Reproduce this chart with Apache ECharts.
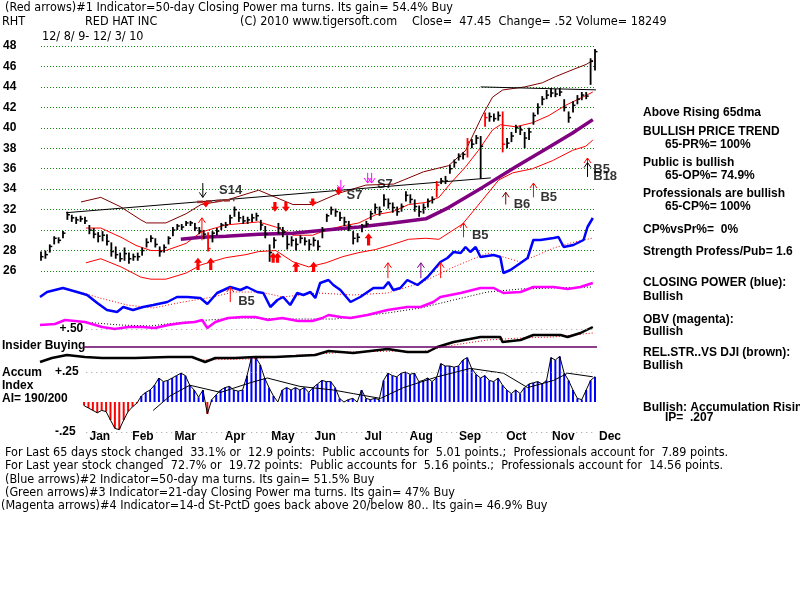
<!DOCTYPE html>
<html>
<head>
<meta charset="utf-8">
<script src="https://cdn.jsdelivr.net/npm/echarts@6/dist/echarts.min.js"></script>
<style>
  html, body { margin: 0; background: #fff; }
  #chart { width: 800px; height: 600px; }
</style>
</head>
<body>
<div id="chart"></div>
<script>
// ---- data (x = bar index, one bar every 2 trading days, 12/8/09 .. 12/3/10) ----
const closes = [
  27.4, 27.6, 28.4, 29.2, 29.0, 29.7, 31.5, 31.2, 31.0, 31.1,
  30.9, 30.0, 29.6, 29.4, 29.5, 28.9, 27.9, 27.6, 27.2, 27.7,
  27.2, 27.4, 27.4, 28.0, 28.8, 29.2, 28.6, 27.9, 28.3, 29.2,
  30.0, 30.4, 30.3, 30.7, 30.7, 30.2, 29.9, 29.6, 28.2, 29.7,
  29.9, 30.5, 30.5, 31.2, 32.0, 31.2, 30.9, 31.0, 31.2, 31.4,
  30.5, 29.6, 27.8, 29.0, 30.2, 29.8, 28.6, 29.0, 28.6, 29.2,
  28.9, 28.6, 29.0, 28.4, 30.0, 31.4, 32.0, 31.8, 31.2, 30.8,
  30.4, 29.2, 29.3, 30.4, 30.6, 31.6, 32.2, 31.8, 33.0, 32.6,
  32.2, 31.8, 32.3, 33.4, 33.0, 32.3, 31.8, 32.2, 32.8, 33.0,
  34.4, 34.8, 34.8, 36.0, 36.6, 37.2, 37.4, 38.6, 38.4, 39.0,
  38.2, 41.0, 41.1, 40.9, 41.2, 38.4, 38.5, 39.2, 40.0, 39.8,
  39.0, 39.6, 41.2, 42.0, 42.8, 43.2, 43.4, 43.3, 43.5, 42.0,
  41.0, 42.2, 42.8, 43.2, 43.1, 46.5, 47.45
]
const highs = [
  27.9, 28.0, 28.6, 29.4, 29.3, 29.9, 31.8, 31.5, 31.3, 31.4,
  31.3, 30.5, 30.2, 29.8, 29.9, 29.6, 28.8, 28.4, 27.8, 28.3,
  27.8, 27.7, 27.8, 28.3, 29.2, 29.5, 29.2, 28.4, 28.6, 29.4,
  30.3, 30.6, 30.6, 30.9, 30.9, 30.7, 30.3, 30.0, 29.8, 29.9,
  30.2, 30.7, 30.8, 31.5, 32.3, 31.8, 31.4, 31.3, 31.6, 31.7,
  31.0, 30.4, 28.6, 29.3, 30.7, 30.3, 29.5, 29.4, 29.2, 29.5,
  29.3, 29.1, 29.3, 29.0, 30.3, 31.6, 32.3, 32.1, 31.8, 31.3,
  30.9, 29.9, 29.7, 30.6, 30.9, 31.9, 32.6, 32.3, 33.5, 33.1,
  32.7, 32.3, 32.6, 33.8, 33.5, 33.0, 32.4, 32.6, 33.1, 33.3,
  34.8, 35.1, 35.3, 36.4, 36.9, 37.5, 37.6, 39.0, 38.9, 39.3,
  39.2, 41.5, 41.5, 41.4, 41.6, 41.6, 39.0, 39.6, 40.3, 40.2,
  39.6, 40.0, 41.5, 42.4, 43.1, 43.7, 43.9, 43.8, 43.9, 42.8,
  41.6, 42.6, 43.2, 43.5, 43.5, 46.8, 47.7
]
const lows = [
  27.0, 27.2, 27.8, 28.6, 28.7, 29.2, 31.0, 30.8, 30.6, 30.8,
  30.6, 29.6, 29.2, 28.8, 28.9, 28.5, 27.4, 27.2, 26.9, 27.0,
  26.7, 27.0, 27.0, 27.5, 28.3, 28.8, 28.3, 27.4, 27.8, 28.6,
  29.4, 30.0, 30.0, 30.4, 30.4, 29.9, 29.6, 29.1, 27.9, 28.8,
  29.5, 30.0, 30.2, 30.6, 31.3, 30.8, 30.6, 30.6, 30.8, 30.9,
  30.0, 29.2, 26.9, 28.2, 29.6, 29.3, 28.1, 28.4, 28.0, 28.7,
  28.5, 28.0, 28.4, 28.0, 29.2, 30.8, 31.5, 31.3, 30.9, 30.4,
  29.9, 28.6, 28.8, 29.8, 30.3, 31.0, 31.6, 31.4, 32.3, 32.1,
  31.7, 31.4, 31.8, 32.8, 32.6, 31.8, 31.3, 31.6, 32.2, 32.6,
  33.2, 34.5, 34.5, 35.5, 36.1, 36.8, 36.9, 37.1, 38.0, 38.4,
  35.0, 40.1, 40.6, 40.6, 40.7, 37.6, 38.0, 38.6, 39.5, 39.3,
  38.0, 38.8, 40.3, 41.3, 42.2, 42.8, 43.0, 43.0, 43.1, 41.6,
  40.5, 41.5, 42.3, 42.7, 42.8, 44.2, 45.6
]
const redBars = [38, 90, 97, 101, 105]

const upperBand = [[9.1,32.75],[13.6,33.2],[18,32.3],[22.7,31.0],[24,30.7],[28.4,30.7],[33,31.6],[36.4,32.5],[42,32.9],[49.5,33.9],[57.3,32.5],[61.8,32.5],[67.7,33.6],[73.9,34.4],[80.2,34.5],[82.5,34.9],[87,35.7],[92.7,36.3],[96.6,37.8],[100.5,41.3],[102.7,43.0],[105,43.7],[110,44.0],[114,44.4],[117,45.0],[121,45.7],[124,46.2],[125.5,46.6]]
const midLine = [[10.2,30.2],[13.6,30.2],[18.2,29.3],[21.6,28.5],[25,28.0],[28.4,28.0],[33,28.7],[36.4,29.8],[42,30.5],[49.5,30.8],[53.4,30.3],[57.3,29.5],[61.8,29.5],[64.8,30.0],[68.6,30.4],[72.3,30.7],[76.1,31.5],[80,31.8],[83.6,32.5],[87.5,32.7],[90.5,33.2],[93.2,34.6],[96.6,36.2],[99.5,37.8],[102.7,39.8],[104.5,40.3],[108,40.1],[111.8,40.5],[115.5,41.2],[119.3,42.2],[123.2,43.0],[125.5,43.5]]
const lowerBand = [[10.2,26.8],[13.6,27.2],[18.2,26.4],[22.7,25.4],[25,25.2],[28.4,25.2],[33,25.8],[36.4,26.6],[42,27.3],[46.6,27.6],[49.5,27.9],[53.4,28.0],[57.3,26.9],[60.9,26.4],[64.8,26.8],[68.6,27.4],[72.3,27.8],[76.1,28.1],[80,28.6],[83.6,29.1],[87.5,29.2],[90.5,29.1],[95.9,30.6],[100.5,33.0],[104.1,34.9],[107.3,35.6],[111.8,36.0],[116.4,36.8],[120.9,37.8],[123.9,38.2],[125.5,38.8]]
const ma65 = [[31.8,29.1],[36.4,29.3],[42,29.4],[49.5,29.6],[57.3,29.7],[64.8,30.0],[72.3,30.3],[80,30.7],[87.5,31.1],[92.7,32.2],[100.5,34.2],[108,36.2],[115.5,38.1],[120.9,39.5],[125.5,40.8]]
const trendLine1 = [[5.7,31.7],[102.3,35.1]]
const trendLine2 = [[100,44.0],[136.4,43.6]]
const stopLine = [[35.5,32.75],[44,32.95]]

// arrows: [x, tail, tip]
const redThickUp = [[35.7,26.1,27.3],[38.6,26.1,27.3],[52.8,26.8,27.8],[53.8,26.8,27.8],[58,25.9,26.9],[62,25.9,26.9],[74.5,28.5,29.7]]
const redThickDown = [[37.5,32.8,32.2],[53.2,32.75,31.8],[55.7,32.75,31.8],[61.8,33.1,32.3],[67.7,34.2,33.4]]
const redThin = [[36.6,29.0,31.2],[78.9,25.3,26.8],[90.9,25.3,26.8],[96.1,29.3,30.7],[112,33.2,34.6],[124.3,35.2,37.05]]
const purpleThin = [[86.4,25.3,26.8]]
const darkRedThin = [[105.7,32.5,33.7]]
const blackThin = [[36.8,34.6,33.2],[124.3,35.2,36.6]]
const magentaThin = [[68.2,34.9,33.9],[74.3,35.6,34.6],[75.2,35.6,34.6]]
const signals = [[40.5,33.9,'S14'],[69.5,33.4,'S7'],[76.4,34.5,'S7'],[80.3,25.5,'B5'],[88,25.5,'B7'],[92.5,25.5,'B5'],[98,29.5,'B5'],[107.5,32.55,'B6'],[113.6,33.2,'B5'],[125.6,35.9,'B5'],[125.6,35.2,'B18']]

// lower indicators (unscaled height units)
const closingPower = [[0,73],[1.6,78],[5.2,82],[8.4,78],[10.7,75],[13,67],[15.2,60],[17.5,58],[18.9,63],[21.1,60],[23.4,63],[25.7,65],[28.9,68],[31.1,73],[33.4,73],[36.4,72],[38,66],[40.2,77],[43.2,83],[45.5,80],[47,83],[49.3,78],[50.7,77],[52.3,63],[53.9,70],[55.2,73],[56.8,65],[58.4,77],[59.8,75],[61.4,78],[62.5,72],[63.6,87],[65.5,90],[66.6,85],[68.2,80],[70.5,68],[72.7,73],[75.7,82],[78,82],[79.1,88],[80.2,80],[81.8,82],[83.4,90],[85.7,85],[88,93],[90.9,108],[92.5,112],[93.9,118],[95.5,117],[96.6,123],[97.7,118],[98.9,123],[100,113],[103,115],[104.5,113],[105.2,97],[106.8,100],[109.1,107],[110.7,112],[112,130],[113.6,130],[116.6,132],[117.7,133],[118.9,123],[121.1,125],[123.4,130],[124.3,143],[125.5,152]]
const closingPowerMa = [[9.8,77],[13.6,72],[19.8,65],[25.7,62],[32.5,68],[39.3,73],[43.9,78],[50,78],[55.2,73],[63,77],[71.1,75],[78.9,77],[86.4,87],[93.9,103],[101.6,117],[105.2,113],[109.1,108],[113,115],[116.6,122],[120.5,127],[125.5,132]]
const obv = [[0,45],[3.4,46],[5.7,50],[10.2,48],[14.1,43],[17,41],[20,43],[23.2,43],[26.1,42],[29.1,45],[32.3,47],[35.2,48],[36.8,50],[38,42],[39.8,48],[42.7,52],[45.9,53],[48.9,53],[51.8,50],[55,52],[58.6,49],[61.8,49],[64.1,52],[65.5,55],[68.2,53],[70.5,52],[74.3,55],[78.9,60],[83.4,63],[86.4,63],[89.3,68],[90.9,73],[95.5,77],[100,82],[103,82],[105.2,77],[109.1,78],[112,83],[116.6,83],[119.8,81],[122.7,83],[125.5,87]]
const obvMa = [[9.8,48],[18.2,45],[25,44],[30.7,47],[38.2,50],[45.9,52],[56.8,51],[67,51],[78.9,57],[86.4,62],[93.9,70],[101.6,78],[109.1,81],[116.6,82],[125.5,83]]
const relStrength = [[0,8],[2.7,12],[6.1,15],[10.2,13],[14.1,12],[21.6,12],[29.1,13],[34.5,13],[37.5,8],[39.8,12],[44.3,12],[48.9,13],[53.4,13],[58,14],[62.5,15],[65.5,19],[71.1,17],[78.9,21],[83.4,18],[88,18],[90.2,23],[93.9,28],[100,33],[104.5,33],[105,28],[109.1,30],[112,35],[118.2,35],[119.8,33],[122.7,37],[125.5,43]]
const relStrengthMa = [[36.4,10],[47.7,11],[59.1,15],[70.5,18],[81.8,19],[86.4,18],[93.9,25],[101.6,30],[109.1,32],[116.6,33],[125.5,37]]
const insiderLevel = 23
const plus50Level = 41
const cpArrow = [[43.2,68,83]]
const cpSignals = [[45,69,'B5']]

const accum = [
  null, null, null, null, null, null, null, null, null, null,
  -0.03, -0.05, -0.07, -0.09, -0.07, -0.08, -0.15, -0.22, -0.23, -0.15,
  -0.08, -0.04, -0.01, 0.05, 0.08, 0.10, 0.14, 0.20, 0.17, 0.18,
  0.20, 0.22, 0.24, 0.22, 0.14, 0.10, 0.04, 0.10, -0.10, 0.02,
  0.06, 0.10, 0.12, 0.13, 0.10, 0.09, 0.10, 0.22, 0.37, 0.37,
  0.31, 0.20, 0.12, 0.05, 0.00, 0.10, 0.12, 0.10, 0.12, 0.10,
  0.12, 0.08, 0.12, 0.15, 0.18, 0.17, 0.17, 0.12, 0.03, 0.00,
  0.02, 0.03, 0.00, 0.10, 0.03, 0.02, 0.03, 0.02, 0.18, 0.24,
  0.22, 0.21, 0.24, 0.25, 0.23, 0.24, 0.17, 0.18, 0.20, 0.17,
  0.20, 0.32, 0.30, 0.30, 0.29, 0.30, 0.35, 0.37, 0.28, 0.23,
  0.20, 0.22, 0.18, 0.17, 0.20, 0.14, 0.10, 0.07, 0.10, 0.07,
  0.12, 0.15, 0.16, 0.17, 0.15, 0.18, 0.37, 0.35, 0.38, 0.24,
  0.18, 0.10, 0.03, 0.02, 0.10, 0.18, 0.21
]
const accumMa = [[25.7,-0.07],[29.5,0.05],[34,0.14],[41,0.08],[47.7,0.16],[51.6,0.20],[59,0.13],[66.6,0.10],[71.1,0.07],[77.3,0.03],[82.5,0.12],[90.2,0.21],[97.7,0.28],[105.2,0.24],[110.7,0.12],[116.6,0.18],[119.8,0.24],[125.5,0.21]]
const accumTicks = [-0.25, 0.25]
const accumTickLabels = ['-.25', '+.25']

const priceMin = 26, priceMax = 48, priceStep = 2
const monthNames = ['Jan','Feb','Mar','Apr','May','Jun','Jul','Aug','Sep','Oct','Nov','Dec']
const monthPos = [13.6, 23.4, 33, 44.3, 55.2, 64.8, 75.7, 86.6, 97.7, 108.2, 118.9, 129.5]

// ---- chart ----
const BOLD = 'bold 12px "Liberation Sans", Arial, sans-serif'
const NARROW = '12.5px "Liberation Sans Narrow", "DejaVu Sans Condensed", sans-serif'
const myChart = echarts.init(document.getElementById('chart'))

function txt(s, x, y, font) {
  return { type: 'text', x: x, y: y, silent: true, style: { text: s, font: font || BOLD, fill: '#000', verticalAlign: 'middle' } }
}

function renderBar(params, api) {
  const x = api.value(0)
  const lo = api.coord([x, api.value(1)])
  const hi = api.coord([x, api.value(2)])
  const cl = api.coord([x, api.value(3)])
  const color = api.value(4) ? '#ff0000' : '#000000'
  return {
    type: 'group',
    children: [
      { type: 'line', shape: { x1: lo[0], y1: lo[1], x2: hi[0], y2: hi[1] }, style: { stroke: color, lineWidth: 1.8 } },
      { type: 'line', shape: { x1: cl[0], y1: cl[1], x2: cl[0] + 2.5, y2: cl[1] }, style: { stroke: color, lineWidth: 1.5 } },
    ],
  }
}

function renderArrow(params, api) {
  const x = api.value(0)
  const tail = api.coord([x, api.value(1)])
  const tip = api.coord([x, api.value(2)])
  const thick = api.value(3)
  const color = api.visual('color')
  const dir = tip[1] < tail[1] ? 1 : -1
  const px = tip[0]
  if (thick) {
    const hw = 4, sw = 1.6, hl = 5
    const hy = tip[1] + dir * hl
    return {
      type: 'polygon',
      shape: { points: [[px, tip[1]], [px + hw, hy], [px + sw, hy], [px + sw, tail[1]], [px - sw, tail[1]], [px - sw, hy], [px - hw, hy]] },
      style: { fill: color },
    }
  }
  return {
    type: 'group',
    children: [
      { type: 'line', shape: { x1: px, y1: tail[1], x2: px, y2: tip[1] }, style: { stroke: color, lineWidth: 1 } },
      { type: 'polyline', shape: { points: [[px - 3.5, tip[1] + dir * 5], [px, tip[1]], [px + 3.5, tip[1] + dir * 5]] }, style: { stroke: color, lineWidth: 1, fill: null } },
    ],
  }
}

function renderAccum(params, api) {
  const x = api.value(0)
  const v = api.value(1)
  const base = api.coord([x, 0])
  const top = api.coord([x, v])
  return { type: 'line', shape: { x1: base[0], y1: base[1], x2: top[0], y2: top[1] }, style: { stroke: v < 0 ? '#ff0000' : '#0000ff', lineWidth: 2 } }
}

const arrowItems = (list, color, thick) => list.map((a) => ({ value: [a[0], a[1], a[2], thick], itemStyle: { color: color } }))
const priceArrows = [].concat(
  arrowItems(redThickUp, '#ff0000', 1),
  arrowItems(redThickDown, '#ff0000', 1),
  arrowItems(redThin, '#ff0000', 0),
  arrowItems(purpleThin, '#800080', 0),
  arrowItems(darkRedThin, '#800000', 0),
  arrowItems(blackThin, '#000000', 0),
  arrowItems(magentaThin, '#ff00ff', 0)
)
const labelItems = (list) => list.map((s) => ({ value: [s[0], s[1]], name: s[2] }))

function line(data, color, width, xi, extra) {
  return Object.assign({
    type: 'line', data: data, xAxisIndex: xi, yAxisIndex: xi, symbol: 'none', clip: false, silent: true,
    lineStyle: { color: color, width: width }, z: 3,
  }, extra || {})
}

const hiddenX = (g, max) => ({ gridIndex: g, type: 'value', min: 0, max: max, show: false })
const labelFont = { color: '#000', fontWeight: 'bold', fontSize: 12, fontFamily: '"Liberation Sans", Arial, sans-serif' }

const option = {
  animation: false,
  backgroundColor: '#ffffff',
  grid: [
    { left: 40, top: 46, width: 555, height: 225 },
    { left: 40, top: 190, width: 555, height: 180 },
    { left: 40, top: 348, width: 555, height: 84 },
    { left: 40, top: 424, width: 570, height: 1 },
  ],
  xAxis: [
    hiddenX(0, 126),
    hiddenX(1, 126),
    hiddenX(2, 126),
    {
      gridIndex: 3, type: 'value', min: 0, max: 129.5,
      axisLine: { show: false }, axisTick: { show: false }, splitLine: { show: false },
      axisLabel: Object.assign({
        customValues: monthPos, hideOverlap: false, margin: 6,
        formatter: (v) => monthNames[monthPos.indexOf(v)],
      }, labelFont),
    },
  ],
  yAxis: [
    {
      gridIndex: 0, type: 'value', min: priceMin, max: priceMax, interval: priceStep,
      axisLine: { show: false }, axisTick: { show: false },
      axisLabel: Object.assign({ align: 'left', margin: 38 }, labelFont),
      splitLine: { show: true, lineStyle: { color: '#118811', type: [1, 2], width: 1 } },
    },
    { gridIndex: 1, type: 'value', min: 0, max: 180, show: false },
    {
      gridIndex: 2, type: 'value', min: -0.25, max: 0.45,
      axisLine: { show: false }, axisTick: { show: false }, splitLine: { show: false },
      axisLabel: Object.assign({
        customValues: accumTicks, align: 'left', margin: -15,
        formatter: (v) => accumTickLabels[accumTicks.indexOf(v)],
      }, labelFont),
    },
    { gridIndex: 3, type: 'value', show: false },
  ],
  graphic: [
    txt('(Red arrows)#1 Indicator=50-day Closing Power ma turns. Its gain= 54.4% Buy', 5, 8, NARROW),
    txt('RHT', 2, 22, NARROW),
    txt('RED HAT INC', 85, 22, NARROW),
    txt('(C) 2010 www.tigersoft.com', 240, 22, NARROW),
    txt('Close=  47.45  Change= .52 Volume= 18249', 412, 22, NARROW),
    txt('12/ 8/ 9- 12/ 3/ 10', 42, 37, NARROW),
    txt('For Last 65 days stock changed  33.1% or  12.9 points:  Public accounts for  5.01 points.;  Professionals account for  7.89 points.', 5, 453, NARROW),
    txt('For Last year stock changed  72.7% or  19.72 points:  Public accounts for  5.16 points.;  Professionals account for  14.56 points.', 5, 466, NARROW),
    txt('(Blue arrows)#2 Indicator=50-day ma turns. Its gain= 51.5% Buy', 5, 480, NARROW),
    txt('(Green arrows)#3 Indicator=21-day Closing Power ma turns. Its gain= 47% Buy', 5, 493, NARROW),
    txt('(Magenta arrows)#4 Indicator=14-d St-PctD goes back above 20/below 80.. Its gain= 46.9% Buy', 1, 506, NARROW),
    txt('Above Rising 65dma', 643, 113),
    txt('BULLISH PRICE TREND', 643, 132),
    txt('65-PR%= 100%', 665, 145),
    txt('Public is bullish', 643, 163),
    txt('65-OP%= 74.9%', 665, 176),
    txt('Professionals are bullish', 643, 194),
    txt('65-CP%= 100%', 665, 207),
    txt('CP%vsPr%=  0%', 643, 230),
    txt('Strength Profess/Pub= 1.6', 643, 252),
    txt('CLOSING POWER (blue):', 643, 283),
    txt('Bullish', 643, 297),
    txt('OBV (magenta):', 643, 320),
    txt('Bullish', 643, 332),
    txt('REL.STR..VS DJI (brown):', 643, 353),
    txt('Bullish', 643, 366),
    txt('Bullish: Accumulation Rising', 643, 408),
    txt('IP=  .207', 665, 418),
    txt('Insider Buying', 2, 346),
    txt('Accum', 2, 373),
    txt('Index', 2, 386),
    txt('AI= 190/200', 2, 399),
  ],
  series: [
    // price panel
    line(upperBand, '#800000', 1, 0),
    line(midLine, '#ff0000', 1, 0),
    line(lowerBand, '#ff0000', 1, 0),
    line(ma65, '#800080', 3.5, 0),
    line(trendLine1, '#000000', 1, 0),
    line(trendLine2, '#000000', 1, 0),
    line(stopLine, '#a03030', 2.5, 0, { lineStyle: { color: '#a03030', width: 2.5, type: [6, 3] } }),
    {
      type: 'custom', xAxisIndex: 0, yAxisIndex: 0, renderItem: renderBar, z: 4, silent: true,
      data: closes.map((c, k) => [k, lows[k], highs[k], c, redBars.includes(k) ? 1 : 0]),
    },
    { type: 'custom', xAxisIndex: 0, yAxisIndex: 0, renderItem: renderArrow, z: 5, silent: true, data: priceArrows },
    {
      type: 'scatter', xAxisIndex: 0, yAxisIndex: 0, symbolSize: 0, z: 6, silent: true, data: labelItems(signals),
      label: Object.assign({ show: true, position: 'right', distance: 0, formatter: '{b}' }, labelFont, { fontSize: 13 }),
    },
    // indicator panel
    line(closingPowerMa, '#ff0000', 1, 1, { lineStyle: { color: '#ff0000', width: 1, type: [1, 2] } }),
    line(closingPower, '#0000ff', 2.5, 1),
    line(obvMa, '#000000', 1, 1, { lineStyle: { color: '#000000', width: 1, type: [1, 2] } }),
    line(obv, '#ff00ff', 2.5, 1),
    line(relStrengthMa, '#ff0000', 1, 1, { lineStyle: { color: '#ff0000', width: 1, type: [1, 2] } }),
    line(relStrength, '#000000', 2.5, 1),
    line([[9.8, insiderLevel], [129, insiderLevel]], '#660066', 1.5, 1, {
      markLine: {
        silent: true, symbol: 'none',
        lineStyle: { color: '#999999', type: [1, 4], width: 1 },
        label: Object.assign({ show: true, position: 'start', distance: 3, formatter: '+.50' }, labelFont),
        data: [[{ coord: [10.5, plus50Level] }, { coord: [126, plus50Level] }]],
      },
    }),
    { type: 'custom', xAxisIndex: 1, yAxisIndex: 1, renderItem: renderArrow, z: 5, silent: true, data: arrowItems(cpArrow, '#ff0000', 0) },
    {
      type: 'scatter', xAxisIndex: 1, yAxisIndex: 1, symbolSize: 0, z: 6, silent: true, data: labelItems(cpSignals),
      label: Object.assign({ show: true, position: 'right', distance: 0, formatter: '{b}' }, labelFont, { fontSize: 13 }),
    },
    // accumulation index
    {
      type: 'custom', xAxisIndex: 2, yAxisIndex: 2, renderItem: renderAccum, silent: true, z: 2,
      data: accum.map((v, k) => (v == null ? null : [k, v])).filter(Boolean),
    },
    line(accum.map((v, k) => [k, v]), '#000000', 1, 2, { connectNulls: false }),
    line(accumMa, '#000000', 1, 2, {
      markLine: {
        silent: true, symbol: 'none', label: { show: false },
        lineStyle: { color: '#999999', type: [1, 4], width: 1 },
        data: [
          [{ coord: [10.5, 0.25] }, { coord: [126, 0.25] }],
          [{ coord: [10.5, -0.25] }, { coord: [126, -0.25] }],
        ],
      },
    }),
  ],
}

myChart.setOption(option)
window.addEventListener('resize', () => myChart.resize(), { passive: true })
</script>
</body>
</html>
